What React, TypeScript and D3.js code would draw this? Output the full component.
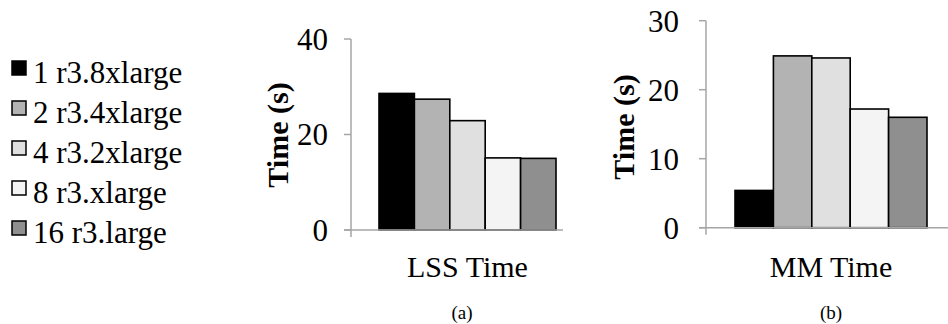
import React from "react";
import * as d3 from "d3";

const seriesNames = ["1 r3.8xlarge", "2 r3.4xlarge", "4 r3.2xlarge", "8 r3.xlarge", "16 r3.large"];
const seriesColors = ["#000000", "#b3b3b3", "#e0e0e0", "#f4f4f4", "#8f8f8f"];
const lssValues = [28.6, 27.4, 22.9, 15.1, 15.0];
const mmValues = [5.4, 24.9, 24.6, 17.2, 16.0];
const lssTicks = [0, 20, 40];
const mmTicks = [0, 10, 20, 30];

const FONT = "Liberation Serif, Times New Roman, DejaVu Serif, serif";
const AXIS = "#a6a6a6";

type PanelProps = {
  values: number[];
  ticks: number[];
  yMax: number;
  axisX: number;
  yTop: number;
  yZero: number;
  barStart: number;
  barEnd: number;
  xAxisEnd: number;
  label: string;
  ylabelX: number;
  ylabelY: number;
  labelEnd: number;
};

const txt = { fontFamily: FONT };

function Panel(p: PanelProps) {
  const y = d3.scaleLinear().domain([0, p.yMax]).range([p.yZero, p.yTop]);
  const x = d3.scaleBand<string>().domain(seriesNames).range([p.barStart, p.barEnd]).padding(0);
  return (
    <g>
      {p.values.map((v, i) => (
        <rect
          key={i}
          x={x(seriesNames[i])!}
          y={y(v)}
          width={x.bandwidth()}
          height={y(0) - y(v)}
          fill={seriesColors[i]}
          stroke="#000"
          strokeWidth={1.6}
        />
      ))}
      <line x1={p.axisX} x2={p.axisX} y1={y(p.yMax)} y2={p.yZero + 7} stroke={AXIS} strokeWidth={1.5} />
      <line x1={p.axisX - 7} x2={p.xAxisEnd} y1={p.yZero} y2={p.yZero} stroke={AXIS} strokeWidth={1.5} />
      {p.ticks.map((t) => (
        <g key={t}>
          <line x1={p.axisX - 7} x2={p.axisX} y1={y(t)} y2={y(t)} stroke={AXIS} strokeWidth={1.5} />
          <text x={p.labelEnd} y={y(t)} dy="0.35em" textAnchor="end" style={txt} fontSize={31} fill="#000">
            {t}
          </text>
        </g>
      ))}
      <text
        transform={`translate(${p.ylabelX},${p.ylabelY}) rotate(-90)`}
        textAnchor="middle"
        dy="0.35em"
        style={txt}
        fontWeight="bold"
        fontSize={30}
        fill="#000"
      >
        Time (s)
      </text>
      <text x={(p.barStart + p.barEnd) / 2} y={277} textAnchor="middle" style={txt} fontSize={30} fill="#000">
        {p.label}
      </text>
    </g>
  );
}

export default function App() {
  return (
    <svg width={948} height={324} style={{ position: "absolute", left: 0, top: 0, background: "#fff" }}>
      <rect width={948} height={324} fill="#fff" />
      {seriesNames.map((n, i) => (
        <g key={n}>
          <rect x={12} y={61 + i * 40} width={14} height={14} fill={seriesColors[i]} stroke="#000" strokeWidth={1.5} />
          <text x={33} y={83 + i * 40} style={txt} fontSize={31} fill="#000">
            {n}
          </text>
        </g>
      ))}
      <Panel
        values={lssValues}
        ticks={lssTicks}
        yMax={40}
        axisX={351}
        yTop={39}
        yZero={230}
        barStart={379}
        barEnd={556}
        xAxisEnd={563}
        label="LSS Time"
        ylabelX={277}
        ylabelY={135}
        labelEnd={328}
      />
      <Panel
        values={mmValues}
        ticks={mmTicks}
        yMax={30}
        axisX={706}
        yTop={20.7}
        yZero={227.7}
        barStart={735}
        barEnd={927}
        xAxisEnd={948}
        label="MM Time"
        ylabelX={623}
        ylabelY={127}
        labelEnd={679}
      />
      <text x={462} y={319} textAnchor="middle" style={txt} fontSize={19} fill="#000">(a)</text>
      <text x={831} y={319} textAnchor="middle" style={txt} fontSize={19} fill="#000">(b)</text>
    </svg>
  );
}
